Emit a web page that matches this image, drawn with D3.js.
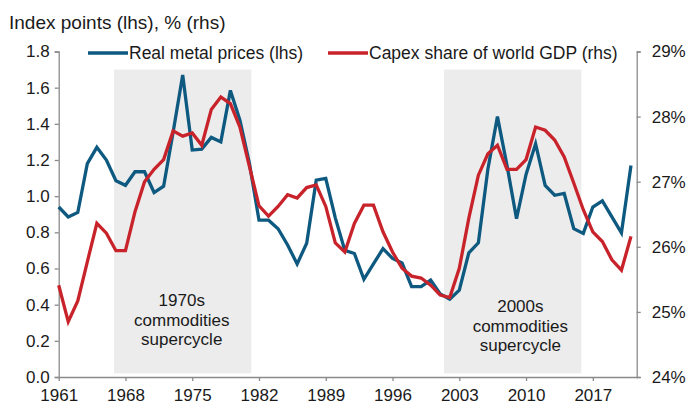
<!DOCTYPE html>
<html>
<head>
<meta charset="utf-8">
<script src="https://cdn.jsdelivr.net/npm/d3@7"></script>
<style>
  body { margin: 0; background: #fff; }
  svg { display: block; font-family: "Liberation Sans", Arial, sans-serif; }
</style>
</head>
<body>
<svg id="chart" width="687" height="405"></svg>
<script>
// years on the x axis, one point per year
const years = d3.range(1961, 2022);

// real metal prices, index points (lhs)
const metalPrices = [
  0.94, 0.885, 0.91, 1.18, 1.27, 1.20, 1.085, 1.06, 1.135, 1.135,
  1.02, 1.055, 1.355, 1.67, 1.255, 1.26, 1.325, 1.30, 1.585, 1.42,
  1.18, 0.867, 0.867, 0.82, 0.73, 0.625, 0.74, 1.088, 1.098, 0.88,
  0.70, 0.683, 0.54, 0.625, 0.71, 0.656, 0.63, 0.50, 0.50, 0.536,
  0.46, 0.43, 0.48, 0.687, 0.742, 1.15, 1.44, 1.17, 0.875, 1.12,
  1.29, 1.06, 1.005, 1.015, 0.82, 0.794, 0.94, 0.974, 0.886, 0.797,
  1.17
];

// capex share of world GDP, % (rhs)
const capexShare = [
  25.41, 24.85, 25.17, 25.77, 26.36, 26.21, 25.94, 25.94, 26.54, 27.0,
  27.19, 27.34, 27.78, 27.70, 27.75, 27.56, 28.11, 28.30, 28.20, 27.84,
  27.23, 26.63, 26.47, 26.62, 26.80, 26.75, 26.91, 26.95, 26.62, 26.06,
  25.92, 26.36, 26.64, 26.64, 26.23, 25.92, 25.67, 25.55, 25.52, 25.41,
  25.26, 25.22, 25.67, 26.44, 27.10, 27.43, 27.56, 27.19, 27.19, 27.34,
  27.84, 27.79, 27.64, 27.38, 26.98, 26.57, 26.23, 26.08, 25.80, 25.64,
  26.16
];

// shaded supercycle periods
const cycleNames = ["1970s", "2000s"];
const cycleStart = [1966.8, 2001.4];
const cycleEnd = [1981.2, 2015.8];
const cycleLabelYear = [1973.9, 2009.4];

const xTicks = d3.range(1961, 2022, 7);
const yLeftTicks = [0, 0.2, 0.4, 0.6, 0.8, 1.0, 1.2, 1.4, 1.6, 1.8];
const yRightTicks = [24, 25, 26, 27, 28, 29];

const blue = "#0e5980";
const red = "#c8232b";
const axisGrey = "#8a8a8a";

const svg = d3.select("#chart");

const x = d3.scaleLinear().domain([1961, 2021.6]).range([58.7, 636.7]);
const yL = d3.scaleLinear().domain([0, 1.8]).range([377, 51.5]);
const yR = d3.scaleLinear().domain([24, 29]).range([377, 51.5]);

// shading
cycleNames.forEach((name, i) => {
    svg.append("rect")
        .attr("x", x(cycleStart[i]))
        .attr("y", yL(1.7))
        .attr("width", x(cycleEnd[i]) - x(cycleStart[i]))
        .attr("height", yL(0.02) - yL(1.7))
        .attr("fill", "#ececec");

    const lines = [name, "commodities", "supercycle"];
    const baseY = i === 0 ? 306 : 312;
    lines.forEach((t, j) => {
        svg.append("text")
            .attr("x", x(cycleLabelYear[i]))
            .attr("y", baseY + j * 19.7)
            .attr("text-anchor", "middle")
            .style("font-size", "17px")
            .style("fill", "#1a1a1a")
            .text(t);
    });
});

// axes
const styleAxis = g => {
    g.selectAll("path").attr("stroke", axisGrey).attr("stroke-width", 1.3);
    g.selectAll("line").attr("stroke", axisGrey).attr("stroke-width", 1.3);
    g.selectAll("text").style("font-size", "17px").style("fill", "#1a1a1a")
        .style("font-family", "Liberation Sans, Arial, sans-serif");
};

svg.append("g")
    .attr("transform", "translate(0,377)")
    .call(d3.axisBottom(x).tickValues(xTicks).tickFormat(d3.format("d"))
        .tickSize(4).tickSizeOuter(0).tickPadding(8))
    .call(styleAxis);

svg.append("g")
    .attr("transform", "translate(58.7,0)")
    .call(d3.axisLeft(yL).tickValues(yLeftTicks).tickFormat(d3.format(".1f"))
        .tickSize(4).tickSizeOuter(4).tickPadding(5))
    .call(styleAxis);

svg.append("g")
    .attr("transform", "translate(636.7,0)")
    .call(d3.axisRight(yR).tickValues(yRightTicks).tickFormat(d => d + "%")
        .tickSize(4).tickSizeOuter(4).tickPadding(11))
    .call(styleAxis);

// lines
const metalLine = d3.line()
    .x((d, i) => x(years[i]))
    .y(d => yL(d));

const capexLine = d3.line()
    .x((d, i) => x(years[i]))
    .y(d => yR(d));

svg.append("path")
    .datum(metalPrices)
    .attr("d", metalLine)
    .attr("fill", "none")
    .attr("stroke", blue)
    .attr("stroke-width", 3.3);

svg.append("path")
    .datum(capexShare)
    .attr("d", capexLine)
    .attr("fill", "none")
    .attr("stroke", red)
    .attr("stroke-width", 3.3);

// title
svg.append("text")
    .attr("x", 9)
    .attr("y", 29)
    .style("font-size", "19px")
    .style("fill", "#1a1a1a")
    .text("Index points (lhs), % (rhs)");

// legend
const legend = [
    { name: "Real metal prices (lhs)", color: blue, x0: 88 },
    { name: "Capex share of world GDP (rhs)", color: red, x0: 328 }
];
legend.forEach(d => {
    svg.append("line")
        .attr("x1", d.x0).attr("x2", d.x0 + 40)
        .attr("y1", 53).attr("y2", 53)
        .attr("stroke", d.color)
        .attr("stroke-width", 3.3);
    svg.append("text")
        .attr("x", d.x0 + 41)
        .attr("y", 59)
        .style("font-size", "17.5px")
        .style("fill", "#1a1a1a")
        .text(d.name);
});
</script>
</body>
</html>
